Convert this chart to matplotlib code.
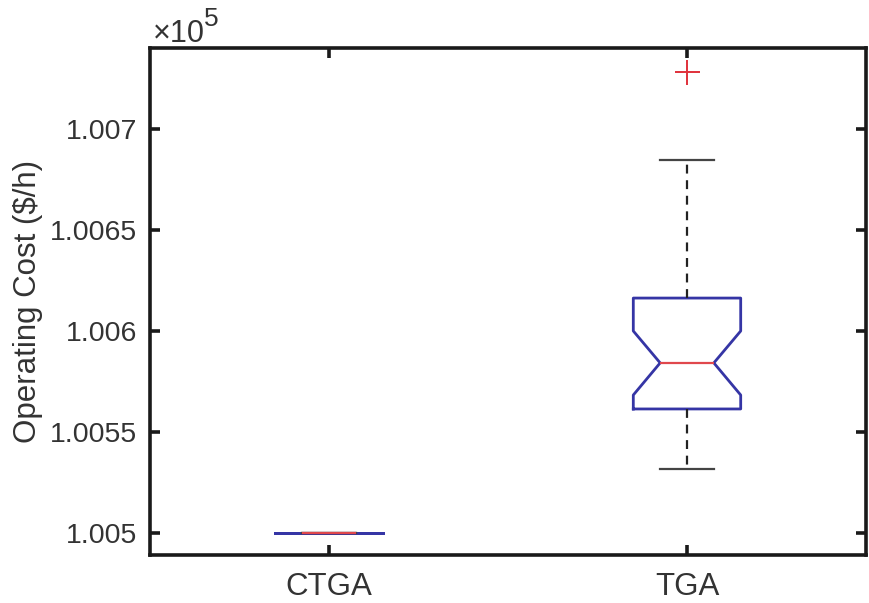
import numpy as np
import matplotlib
matplotlib.use('Agg')
import matplotlib.pyplot as plt
from matplotlib.ticker import FuncFormatter

plt.rcParams['font.family'] = ['Liberation Sans', 'DejaVu Sans']

# box statistics ($/h)
labels = ['CTGA', 'TGA']
medians = [100500.0, 100584.2]
q1s = [100500.0, 100561.4]
q3s = [100500.0, 100616.3]
ci_lo = [100500.0, 100568.3]
ci_hi = [100500.0, 100600.0]
whisk_lo = [100500.0, 100531.7]
whisk_hi = [100500.0, 100684.7]
outliers = [[], [100728.2]]

yticks = [100500, 100550, 100600, 100650, 100700]

stats = []
for i in range(len(labels)):
    stats.append(dict(label=labels[i], med=medians[i], q1=q1s[i], q3=q3s[i],
                      cilo=ci_lo[i], cihi=ci_hi[i], whislo=whisk_lo[i],
                      whishi=whisk_hi[i], fliers=outliers[i]))

fig = plt.figure(figsize=(8.7, 6.03), dpi=100)
ax = fig.add_axes([150/870, 1 - 555/603, 716/870, 507/603])

ax.bxp(stats, positions=[1, 2], widths=0.3, shownotches=True,
       boxprops=dict(color='#3535a5', linewidth=2.0),
       medianprops=dict(color='#e0474c', linewidth=1.6),
       whiskerprops=dict(color='#222222', linewidth=1.6, linestyle=(0, (4, 3))),
       capprops=dict(color='#444444', linewidth=1.6),
       flierprops=dict(marker='+', markeredgecolor='#e0303a', markersize=18,
                       markeredgewidth=1.4, linestyle='none'))

ax.set_xlim(0.5, 2.5)
ax.set_ylim(100489.1, 100740.1)
ax.set_yticks(yticks)
ax.yaxis.set_major_formatter(FuncFormatter(lambda v, p: '%g' % (v / 1e5)))

for s in ax.spines.values():
    s.set_linewidth(2.6)
    s.set_color('#1a1a1a')
ax.tick_params(direction='in', length=7, width=2.6, pad=9,
               top=True, right=True, colors='#1a1a1a', labelcolor='#333333')
ax.tick_params(axis='y', labelsize=20.5)
ax.tick_params(axis='x', labelsize=22.5, pad=12)

ax.set_ylabel('Operating Cost ($/h)', fontsize=22.5, color='#333333', labelpad=5)

# exponent label in MATLAB style
fig.text(153/870, 1 - 42/603, '\u00d710', fontsize=22, color='#333333',
         ha='left', va='baseline')
fig.text(204/870, 1 - 26/603, '5', fontsize=19, color='#333333',
         ha='left', va='baseline')

fig.savefig('out.png', dpi=100)
